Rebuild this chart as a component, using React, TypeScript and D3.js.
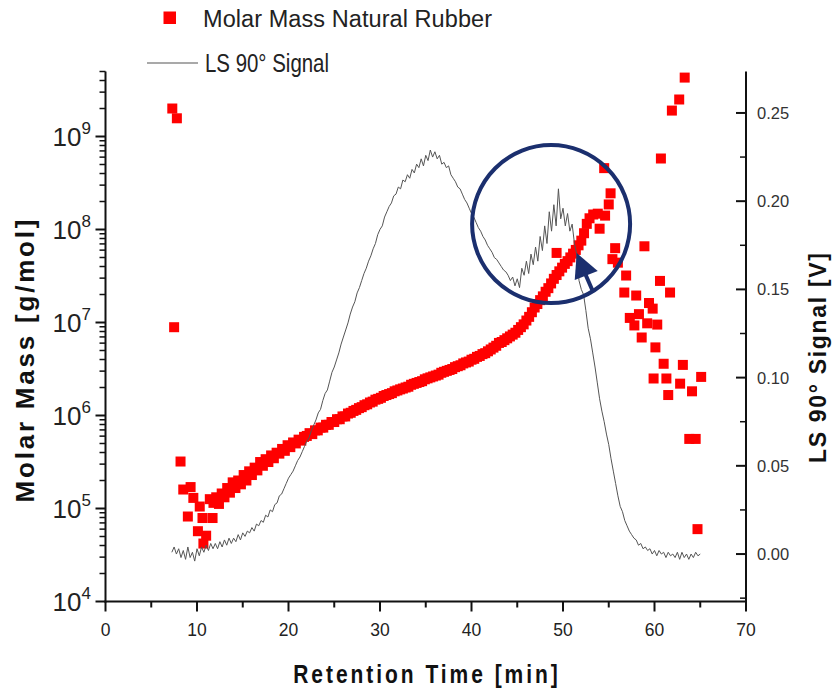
import React from "react";
import * as d3 from "d3";

const W = 833;
const H = 688;

// axis ticks
const timeTicks = [0, 10, 20, 30, 40, 50, 60, 70];
const massExponents = [4, 5, 6, 7, 8, 9];
const signalTicks = [0, 0.05, 0.1, 0.15, 0.2, 0.25];

// LS 90° detector trace, one reading every 0.25 min from 7.25 min
const signalStart = 7.25;
const signalStep = 0.25;
const signalValues = [
  0.001, 0.004, 0.0,
  0.003, -0.002, 0.002, -0.003,
  0.004, -0.002, 0.001, -0.004,
  0.003, -0.001, 0.004, 0.001,
  0.005, 0.002, 0.006, 0.003,
  0.006, 0.003, 0.007, 0.004,
  0.008, 0.005, 0.009, 0.006,
  0.009, 0.007, 0.011, 0.008,
  0.012, 0.01, 0.013, 0.012,
  0.015, 0.013, 0.017, 0.016,
  0.019, 0.018, 0.022, 0.021,
  0.025, 0.024, 0.028, 0.029,
  0.033, 0.034, 0.037, 0.04,
  0.043, 0.045, 0.047, 0.05,
  0.053, 0.055, 0.058, 0.061,
  0.064, 0.066, 0.07, 0.073,
  0.076, 0.08, 0.082, 0.087,
  0.091, 0.093, 0.098, 0.103,
  0.106, 0.11, 0.114, 0.119,
  0.123, 0.127, 0.131, 0.136,
  0.14, 0.143, 0.148, 0.151,
  0.155, 0.159, 0.162, 0.166,
  0.169, 0.173, 0.176, 0.181,
  0.184, 0.186, 0.191, 0.194,
  0.197, 0.199, 0.203, 0.204,
  0.208, 0.207, 0.212, 0.211,
  0.215, 0.213, 0.218, 0.216,
  0.221, 0.219, 0.224, 0.22,
  0.226, 0.223, 0.229, 0.225,
  0.228, 0.224, 0.226, 0.221,
  0.222, 0.219, 0.22, 0.215,
  0.213, 0.211, 0.208, 0.207,
  0.204, 0.201, 0.199, 0.196,
  0.193, 0.191, 0.188, 0.185,
  0.183, 0.18, 0.178, 0.175,
  0.173, 0.171, 0.168, 0.167,
  0.165, 0.163, 0.161, 0.16,
  0.158, 0.155, 0.157, 0.152,
  0.156, 0.151, 0.162, 0.158,
  0.166, 0.159, 0.17, 0.164,
  0.174, 0.166, 0.18, 0.172,
  0.186, 0.176, 0.194, 0.183,
  0.198, 0.186, 0.207, 0.19,
  0.196, 0.186, 0.193, 0.183,
  0.187, 0.176, 0.17, 0.155,
  0.15, 0.147, 0.138, 0.128,
  0.122, 0.114, 0.106, 0.097,
  0.088, 0.081, 0.075, 0.068,
  0.062, 0.054, 0.047, 0.04,
  0.033, 0.027, 0.024, 0.019,
  0.016, 0.013, 0.011, 0.009,
  0.008, 0.005, 0.006, 0.003,
  0.004, 0.002, 0.003, 0.0,
  0.002, -0.001, 0.002, 0.0,
  0.001, -0.002, 0.001, -0.001,
  0.0, -0.002, 0.001, -0.003,
  0.001, -0.002, 0.0, -0.003,
  0.0, -0.002, 0.001, -0.001,
  0.0,
];

// molar mass [min, g/mol]: scattered points at low retention time
const massEarly = [
  [7.3, 2.0e9], [7.8, 1.57e9], [7.5, 8.9e6], [8.2, 3.2e5], [8.5, 1.6e5],
  [9.3, 1.7e5], [9.6, 1.3e5], [9.0, 8.2e4], [10.3, 1.05e5], [10.1, 5.7e4],
  [10.6, 7.9e4], [11.0, 5.1e4], [10.7, 4.2e4], [11.7, 7.9e4], [11.4, 1.26e5],
];

// molar mass along the main elution band
const massBand = [
  [11.8, 1.15e5], [12.1, 1.32e5], [12.4, 1.12e5], [12.7, 1.45e5], [13.0, 1.32e5],
  [13.3, 1.66e5], [13.6, 1.48e5], [13.9, 1.91e5], [14.2, 1.66e5], [14.5, 2.0e5],
  [14.8, 1.82e5], [15.1, 2.29e5], [15.4, 2.0e5], [15.7, 2.51e5], [16.0, 2.29e5],
  [16.3, 2.75e5], [16.6, 2.57e5], [16.9, 3.16e5], [17.2, 2.88e5], [17.5, 3.39e5],
  [17.8, 3.16e5], [18.1, 3.72e5], [18.4, 3.47e5], [18.7, 3.98e5], [19.0, 3.89e5],
  [19.3, 4.37e5], [19.6, 4.17e5], [19.9, 4.79e5], [20.2, 4.57e5], [20.5, 5.13e5],
  [20.8, 5.01e5], [21.1, 5.5e5], [21.4, 5.37e5], [21.7, 5.89e5], [22.0, 6.03e5],
  [22.3, 6.46e5], [22.6, 6.31e5], [22.9, 6.92e5], [23.2, 6.92e5], [23.5, 7.41e5],
  [23.8, 7.41e5], [24.1, 7.94e5], [24.4, 7.94e5], [24.7, 8.51e5], [25.0, 8.51e5],
  [25.3, 9.12e5], [25.6, 9.12e5], [25.9, 9.77e5], [26.2, 9.77e5], [26.5, 1.05e6],
  [26.8, 1.07e6], [27.1, 1.12e6], [27.4, 1.15e6], [27.7, 1.2e6], [28.0, 1.23e6],
  [28.3, 1.29e6], [28.6, 1.32e6], [28.9, 1.38e6], [29.2, 1.41e6], [29.5, 1.48e6],
  [29.8, 1.51e6], [30.1, 1.55e6], [30.4, 1.62e6], [30.7, 1.66e6], [31.0, 1.7e6],
  [31.3, 1.74e6], [31.6, 1.82e6], [31.9, 1.86e6], [32.2, 1.91e6], [32.5, 1.95e6],
  [32.8, 2.0e6], [33.1, 2.04e6], [33.4, 2.14e6], [33.7, 2.19e6], [34.0, 2.24e6],
  [34.3, 2.29e6], [34.6, 2.34e6], [34.9, 2.45e6], [35.2, 2.51e6], [35.5, 2.57e6],
  [35.8, 2.63e6], [36.1, 2.69e6], [36.4, 2.75e6], [36.7, 2.88e6], [37.0, 2.95e6],
  [37.3, 3.02e6], [37.6, 3.09e6], [37.9, 3.16e6], [38.2, 3.31e6], [38.5, 3.39e6],
  [38.8, 3.47e6], [39.1, 3.63e6], [39.4, 3.72e6], [39.7, 3.8e6], [40.0, 3.98e6],
  [40.3, 4.07e6], [40.6, 4.27e6], [40.9, 4.37e6], [41.2, 4.57e6], [41.5, 4.68e6],
  [41.8, 4.9e6], [42.1, 5.13e6], [42.4, 5.37e6], [42.7, 5.62e6], [43.0, 6.03e6],
  [43.3, 6.17e6], [43.6, 6.46e6], [43.9, 6.76e6], [44.2, 7.08e6], [44.5, 7.41e6],
  [44.8, 7.76e6], [45.1, 8.32e6], [45.4, 8.91e6], [45.7, 9.55e6], [46.0, 1.05e7],
  [46.3, 1.15e7], [46.6, 1.29e7], [46.9, 1.45e7], [47.2, 1.58e7], [47.5, 1.74e7],
  [47.8, 1.91e7], [48.1, 2.14e7], [48.4, 2.34e7], [48.7, 2.63e7], [49.0, 2.95e7],
  [49.3, 3.24e7], [49.6, 3.55e7], [49.9, 3.89e7], [50.2, 4.27e7], [50.5, 4.57e7],
  [50.8, 5.01e7], [51.1, 5.5e7], [51.4, 6.03e7], [51.7, 6.76e7], [52.0, 7.59e7],
  [52.3, 9.12e7], [52.6, 1.15e8], [52.9, 1.32e8], [53.3, 1.45e8], [53.8, 1.48e8],
];

// molar mass: scattered points at high retention time
const massLate = [
  [49.3, 5.6e7], [54.0, 1.02e8], [54.6, 1.41e8], [55.0, 1.86e8], [55.2, 2.45e8],
  [54.5, 4.57e8], [55.7, 6.3e7], [55.4, 4.8e7], [56.0, 4.4e7], [56.9, 3.2e7],
  [56.7, 2.1e7], [58.0, 1.95e7], [59.4, 1.62e7], [60.6, 2.8e7], [61.7, 2.1e7],
  [58.9, 6.6e7], [60.7, 5.8e8], [61.9, 1.9e9], [62.7, 2.5e9], [63.3, 4.3e9],
  [59.8, 1.41e7], [57.3, 1.12e7], [58.3, 1.23e7], [57.8, 9.3e6], [59.2, 9.8e6],
  [60.3, 9.5e6], [58.6, 6.9e6], [60.1, 5.4e6], [61.0, 3.6e6], [63.1, 3.5e6],
  [59.9, 2.5e6], [61.3, 2.5e6], [62.8, 2.2e6], [65.1, 2.6e6], [61.5, 1.66e6],
  [64.1, 1.82e6], [63.8, 5.6e5], [64.5, 5.6e5], [64.7, 6.0e4],
];

const RED = "#ff0000";
const NAVY = "#1b2f6e";
const LINE = "#555555";
const SANS = "'Liberation Sans', Arial, sans-serif";

export default function App() {
  const left = 105.5;
  const right = 746;
  const top = 71.5;
  const bottom = 601.5;

  const x = d3.scaleLinear().domain([0, 70]).range([left, right]);
  const yMass = d3.scaleLog().domain([1e4, 5e9]).range([bottom, top]);
  const ySig = d3.scaleLinear().domain([-0.0269, 0.2735]).range([bottom, top]);

  const signalLine = d3
    .line<number>()
    .x((d, i) => x(signalStart + i * signalStep))
    .y((d) => ySig(d));

  const massPoints = [...massEarly, ...massBand, ...massLate];
  const sq = 10;

  const minorTime = d3.range(5, 70, 10);
  const massMinor = yMass.ticks().filter((v) => !massExponents.some((e) => Math.abs(v - 10 ** e) < 1));
  const sigMinor = d3.range(-0.025, 0.27, 0.05).map((v) => +v.toFixed(3));

  // annotation: circle around the second signal peak and an arrow pointing into it
  const cx = x(48.7);
  const cy = ySig(0.187);
  const tipX = x(51.5);
  const tipY = ySig(0.1706);

  return (
    <svg
      width={W}
      height={H}
      style={{ position: "absolute", left: 0, top: 0, background: "#fff" }}
    >
      {/* molar mass squares */}
      <g fill={RED}>
        {massPoints.map(([t, m], i) => (
          <rect key={i} x={x(t) - sq / 2} y={yMass(m) - sq / 2} width={sq} height={sq} />
        ))}
      </g>

      {/* LS 90 signal */}
      <path d={signalLine(signalValues) || ""} fill="none" stroke={LINE} strokeWidth={1} />

      {/* axes */}
      <g stroke="#111" strokeWidth={2}>
        <line x1={left - 1} x2={right + 1} y1={bottom} y2={bottom} />
        <line x1={left} x2={left} y1={top} y2={bottom + 1} />
        <line x1={right} x2={right} y1={top} y2={bottom + 1} />
        {timeTicks.map((t) => (
          <line key={t} x1={x(t)} x2={x(t)} y1={bottom} y2={bottom + 10} />
        ))}
        {minorTime.map((t) => (
          <line key={t} x1={x(t)} x2={x(t)} y1={bottom} y2={bottom + 6} />
        ))}
        {massExponents.map((e) => (
          <line key={e} x1={left - 10} x2={left} y1={yMass(10 ** e)} y2={yMass(10 ** e)} />
        ))}
        {massMinor.map((v, i) => (
          <line key={i} x1={left - 6} x2={left} y1={yMass(v)} y2={yMass(v)} strokeWidth={1.5} />
        ))}
        {signalTicks.map((v) => (
          <line key={v} x1={right - 10} x2={right} y1={ySig(v)} y2={ySig(v)} />
        ))}
        {sigMinor.map((v) => (
          <line key={v} x1={right - 6} x2={right} y1={ySig(v)} y2={ySig(v)} strokeWidth={1.5} />
        ))}
      </g>

      {/* tick labels */}
      <g fontFamily={SANS} fill="#222">
        {timeTicks.map((t) => (
          <text key={t} x={x(t)} y={636} fontSize={17.5} textAnchor="middle">
            {t}
          </text>
        ))}
        {massExponents.map((e) => (
          <text key={e} x={91} y={yMass(10 ** e) + 9.5} fontSize={26} textAnchor="end">
            10
            <tspan dy={-12} fontSize={17}>
              {e}
            </tspan>
          </text>
        ))}
        {signalTicks.map((v) => (
          <text key={v} x={757} y={ySig(v) + 6} fontSize={16.5} fill="#333">
            {v.toFixed(2)}
          </text>
        ))}
      </g>

      {/* axis titles */}
      <text
        transform="translate(425.5,683) scale(0.84,1)"
        fontFamily={SANS}
        fontWeight="bold"
        fontSize={25}
        textAnchor="middle"
        textLength={315}
        lengthAdjust="spacing"
        fill="#111"
      >
        Retention Time [min]
      </text>
      <text
        transform="translate(34,361) rotate(-90)"
        fontFamily={SANS}
        fontWeight="bold"
        fontSize={26}
        textAnchor="middle"
        textLength={283}
        lengthAdjust="spacing"
        fill="#111"
      >
        Molar Mass [g/mol]
      </text>
      <text
        transform="translate(826,358) rotate(-90)"
        fontFamily={SANS}
        fontWeight="bold"
        fontSize={23}
        textAnchor="middle"
        textLength={210}
        lengthAdjust="spacing"
        fill="#111"
      >
        LS 90° Signal [V]
      </text>

      {/* legend */}
      <rect x={163.5} y={11.5} width={12.5} height={12.5} fill={RED} />
      <text x={203} y={27} fontFamily={SANS} fontSize={23.5} textLength={289} lengthAdjust="spacing" fill="#222">
        Molar Mass Natural Rubber
      </text>
      <line x1={147} x2={198} y1={63} y2={63} stroke={LINE} strokeWidth={1.2} />
      <text x={205} y={72} fontFamily={SANS} fontSize={25} textLength={124} lengthAdjust="spacingAndGlyphs" fill="#222">
        LS 90° Signal
      </text>

      {/* annotation */}
      <circle cx={cx} cy={cy} r={79} fill="none" stroke={NAVY} strokeWidth={4} />
      <line x1={tipX + 9} x2={tipX + 16} y1={tipY + 22} y2={tipY + 38} stroke={NAVY} strokeWidth={4} />
      <path
        d={`M${tipX},${tipY} L${tipX - 2},${tipY + 27} L${tipX + 21},${tipY + 18} Z`}
        fill={NAVY}
      />
    </svg>
  );
}
